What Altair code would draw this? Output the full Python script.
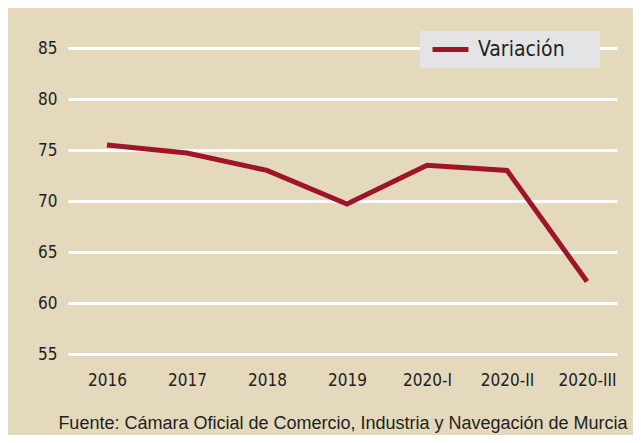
import altair as alt
import pandas as pd

periods = ["2016", "2017", "2018", "2019", "2020-I", "2020-II", "2020-III"]
values = [75.5, 74.7, 73.0, 69.7, 73.5, 73.0, 62.1]
series_name = "Variación"
source_text = "Fuente: Cámara Oficial de Comercio, Industria y Navegación de Murcia"
y_ticks = [55, 60, 65, 70, 75, 80, 85]

BG = "#E4D9BC"
RED = "#9E1529"
TXT = "#231F20"
NARROW = "DejaVu Sans Condensed"

df = pd.DataFrame({"periodo": periods, "valor": values, "serie": [series_name] * len(periods)})
src = pd.DataFrame({"t": [source_text]})

line = alt.Chart(df).mark_line(strokeWidth=5, strokeCap="butt", strokeJoin="miter").encode(
    x=alt.X("periodo:O", sort=periods, title=None,
            scale=alt.Scale(type="point", padding=0.431, align=0.565),
            axis=alt.Axis(labelAngle=0, ticks=False, domain=False, grid=False,
                          labelFont=NARROW, labelFontSize=17, labelColor=TXT,
                          labelPadding=18)),
    y=alt.Y("valor:Q", title=None,
            scale=alt.Scale(domain=[55, 85], nice=False, zero=False),
            axis=alt.Axis(values=y_ticks, ticks=False, domain=False, grid=True,
                          gridColor="white", gridWidth=3,
                          labelFont=NARROW, labelFontSize=17, labelColor=TXT,
                          labelPadding=11)),
    color=alt.Color("serie:N", scale=alt.Scale(range=[RED]),
                    legend=alt.Legend(title=None, orient="none", legendX=352, legendY=-17,
                                      fillColor="#E4E4E6", padding=7, clipHeight=23,
                                      symbolType="stroke", symbolStrokeWidth=5,
                                      symbolSize=1296, symbolOffset=3,
                                      labelOffset=7, labelLimit=300,
                                      labelFont=NARROW, labelFontSize=21, labelColor=TXT,
                                      labelExpr="datum.label + '" + "\u2800" * 2 + "'")),
)

source = alt.Chart(src).mark_text(font="Liberation Sans", fontSize=18, color=TXT,
                                  align="center", baseline="middle").encode(
    text="t:N", x=alt.value(275), y=alt.value(376)
)

chart = alt.layer(line, source).properties(
    width=549, height=306, background=BG,
    autosize=alt.AutoSizeParams(type="none"),
    padding={"left": 60, "top": 40, "right": 16, "bottom": 81},
).configure_view(stroke=None)

chart.save("out.html", embed_options={"renderer": "svg", "actions": False})
